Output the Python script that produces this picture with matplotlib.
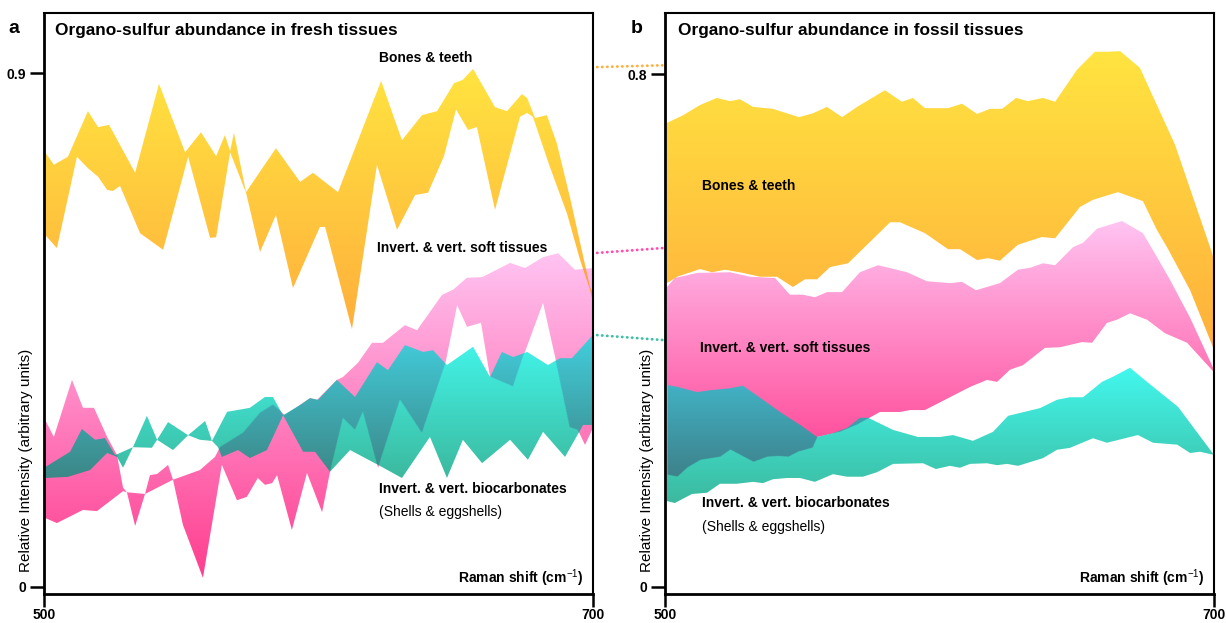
import numpy as np
import matplotlib
matplotlib.use('Agg')
import matplotlib.pyplot as plt
from matplotlib.path import Path
from matplotlib.patches import PathPatch, ConnectionPatch
from matplotlib.colors import to_rgb

plt.rcParams['font.family'] = ['Liberation Sans', 'DejaVu Sans']
plt.rcParams['mathtext.fontset'] = 'custom'
plt.rcParams['mathtext.rm'] = 'Liberation Sans'
plt.rcParams['mathtext.bf'] = 'Liberation Sans:bold'
plt.rcParams['mathtext.default'] = 'rm'

# --- data: panel a (fresh tissues) ---
fresh_bone_up_x = [500.4, 503.6, 508.7, 516.0, 519.7, 523.7, 533.2, 541.9, 551.4, 557.2, 562.7, 565.9, 567.8, 569.2,
                   573.6, 584.5, 593.3, 598.0, 607.1, 622.8, 630.4, 637.7, 643.2, 649.4, 652.6, 656.3, 664.3, 668.7,
                   674.1, 676.0, 678.9, 683.2, 686.8, 691.6, 698.9, 700.0]
fresh_bone_up_y = [0.762, 0.740, 0.754, 0.834, 0.806, 0.810, 0.726, 0.882, 0.762, 0.797, 0.755, 0.792, 0.764, 0.796,
                   0.692, 0.769, 0.710, 0.726, 0.692, 0.887, 0.783, 0.827, 0.834, 0.883, 0.889, 0.908, 0.841, 0.834,
                   0.864, 0.857, 0.822, 0.827, 0.778, 0.683, 0.526, 0.515]
fresh_bone_lo_x = [500.4, 504.7, 512.0, 516.0, 519.7, 523.0, 525.1, 527.7, 535.0, 543.4, 552.5, 560.5, 562.7, 567.8,
                   573.6, 578.7, 584.5, 590.7, 600.5, 602.4, 612.2, 621.3, 628.6, 635.2, 639.9, 645.7, 650.1, 654.5,
                   657.7, 664.3, 673.4, 676.0, 678.1, 684.3, 690.5, 695.3, 698.9, 700.0]
fresh_bone_lo_y = [0.617, 0.594, 0.754, 0.734, 0.719, 0.696, 0.694, 0.703, 0.620, 0.591, 0.754, 0.612, 0.613, 0.762,
                   0.691, 0.587, 0.652, 0.524, 0.631, 0.631, 0.452, 0.740, 0.626, 0.687, 0.691, 0.755, 0.837, 0.801,
                   0.806, 0.661, 0.824, 0.831, 0.824, 0.736, 0.655, 0.573, 0.521, 0.500]

fresh_soft_up_x = [500.4, 503.6, 510.2, 514.2, 518.2, 523.0, 526.6, 528.8, 530.2, 536.8, 538.6, 541.2, 545.2, 547.0,
                   556.8, 562.3, 564.1, 572.5, 578.7, 583.4, 587.8, 596.9, 599.5, 606.7, 608.9, 614.4, 619.5, 623.5,
                   631.5, 635.9, 645.0, 649.0, 654.1, 659.6, 669.8, 675.2, 681.8, 687.3, 693.4, 700.0]
fresh_soft_up_y = [0.293, 0.263, 0.363, 0.314, 0.314, 0.263, 0.231, 0.174, 0.166, 0.163, 0.196, 0.198, 0.214, 0.188,
                   0.205, 0.228, 0.245, 0.270, 0.305, 0.319, 0.301, 0.331, 0.328, 0.363, 0.368, 0.393, 0.428, 0.428,
                   0.459, 0.450, 0.512, 0.521, 0.542, 0.543, 0.568, 0.559, 0.578, 0.585, 0.556, 0.559]
fresh_soft_lo_x = [500.4, 504.7, 514.2, 519.3, 528.8, 530.2, 533.2, 536.8, 547.0, 550.6, 557.9, 564.8, 570.3, 573.9,
                   577.9, 580.5, 583.1, 584.9, 590.3, 595.8, 601.3, 604.2, 608.9, 613.3, 616.2, 621.7, 629.7, 637.7,
                   646.1, 650.5, 654.1, 659.2, 662.5, 670.9, 675.2, 681.8, 686.2, 691.6, 694.5, 697.1, 700.0]
fresh_soft_lo_y = [0.121, 0.112, 0.135, 0.133, 0.168, 0.166, 0.107, 0.163, 0.188, 0.109, 0.016, 0.214, 0.152, 0.158,
                   0.191, 0.179, 0.182, 0.196, 0.100, 0.200, 0.131, 0.202, 0.296, 0.275, 0.307, 0.209, 0.328, 0.270,
                   0.389, 0.494, 0.456, 0.463, 0.368, 0.351, 0.412, 0.498, 0.403, 0.280, 0.275, 0.249, 0.279]

fresh_carb_up_x = [500.4, 509.5, 513.8, 518.6, 522.2, 525.9, 532.4, 537.5, 541.2, 545.2, 552.5, 558.7, 561.2, 566.7,
                   575.0, 580.5, 583.4, 587.1, 593.3, 596.9, 599.8, 606.7, 613.3, 621.3, 625.3, 631.5, 638.1, 641.7,
                   646.8, 656.3, 662.5, 666.8, 670.9, 676.0, 683.6, 688.0, 692.3, 700.0]
fresh_carb_up_y = [0.210, 0.237, 0.277, 0.258, 0.261, 0.231, 0.245, 0.300, 0.258, 0.289, 0.266, 0.291, 0.256, 0.307,
                   0.314, 0.333, 0.333, 0.301, 0.319, 0.331, 0.328, 0.363, 0.333, 0.394, 0.380, 0.424, 0.412, 0.415,
                   0.389, 0.421, 0.368, 0.412, 0.403, 0.412, 0.389, 0.401, 0.401, 0.442]
fresh_carb_lo_x = [500.4, 508.7, 516.8, 523.0, 526.6, 528.8, 532.4, 539.3, 541.2, 547.0, 552.5, 556.8, 561.2, 563.4,
                   564.8, 570.7, 575.0, 581.2, 587.1, 594.4, 598.7, 604.2, 611.5, 621.7, 630.4, 640.6, 646.8, 652.6,
                   659.6, 669.8, 676.3, 681.8, 689.8, 696.4, 700.0]
fresh_carb_lo_y = [0.191, 0.193, 0.205, 0.235, 0.228, 0.209, 0.245, 0.244, 0.258, 0.240, 0.266, 0.258, 0.256, 0.245,
                   0.228, 0.240, 0.226, 0.240, 0.301, 0.237, 0.237, 0.202, 0.240, 0.214, 0.191, 0.263, 0.191, 0.258,
                   0.217, 0.258, 0.223, 0.272, 0.228, 0.284, 0.284]

# --- data: panel b (fossil tissues) ---
fossil_bone_up_x = [500.7, 506.6, 512.8, 518.9, 523.7, 527.3, 532.1, 539.3, 548.8, 553.9, 559.0, 564.5, 570.0, 580.1,
                    586.3, 590.3, 594.7, 603.1, 608.2, 613.7, 618.4, 622.8, 627.9, 632.2, 637.7, 642.1, 650.1, 656.6,
                    661.4, 665.8, 673.0, 685.8, 699.3, 700.0]
fossil_bone_up_y = [0.724, 0.736, 0.752, 0.763, 0.758, 0.761, 0.749, 0.746, 0.733, 0.739, 0.749, 0.733, 0.749, 0.775,
                    0.757, 0.763, 0.747, 0.747, 0.754, 0.738, 0.746, 0.746, 0.763, 0.758, 0.763, 0.757, 0.807, 0.835,
                    0.835, 0.836, 0.810, 0.690, 0.521, 0.510]
fossil_bone_lo_x = [500.7, 504.4, 512.8, 517.1, 521.9, 528.4, 534.6, 540.8, 546.6, 551.0, 555.4, 560.1, 566.7, 582.0,
                    585.6, 594.7, 603.1, 607.5, 613.7, 617.7, 622.0, 628.6, 637.3, 642.1, 651.2, 655.9, 665.0, 674.1,
                    679.2, 682.9, 691.3, 700.0]
fossil_bone_lo_y = [0.474, 0.484, 0.496, 0.491, 0.495, 0.490, 0.484, 0.484, 0.468, 0.480, 0.480, 0.499, 0.505, 0.569,
                    0.569, 0.552, 0.527, 0.527, 0.510, 0.513, 0.509, 0.534, 0.546, 0.544, 0.593, 0.604, 0.616, 0.602,
                    0.557, 0.530, 0.463, 0.370]

fossil_soft_up_x = [500.7, 503.6, 511.7, 523.7, 531.0, 540.1, 545.5, 550.3, 554.6, 559.0, 564.5, 571.0, 577.6, 588.2,
                    595.4, 603.8, 608.2, 613.3, 622.0, 628.6, 633.0, 637.7, 642.1, 648.6, 652.3, 657.4, 666.5, 674.1,
                    679.2, 684.0, 691.3, 700.0]
fossil_soft_up_y = [0.468, 0.482, 0.490, 0.491, 0.484, 0.482, 0.456, 0.456, 0.452, 0.460, 0.460, 0.491, 0.502, 0.491,
                    0.477, 0.474, 0.476, 0.463, 0.474, 0.495, 0.498, 0.505, 0.502, 0.530, 0.537, 0.559, 0.571, 0.552,
                    0.515, 0.479, 0.420, 0.339]
fossil_soft_lo_x = [500.7, 504.4, 508.0, 512.8, 520.0, 523.7, 532.1, 537.2, 541.2, 544.8, 548.5, 553.6, 555.4, 563.8,
                    569.9, 578.3, 585.6, 589.3, 594.7, 603.8, 611.1, 617.3, 621.0, 625.7, 630.4, 638.4, 643.9, 651.9,
                    655.6, 661.0, 664.7, 669.4, 675.6, 682.1, 690.2, 700.0]
fossil_soft_lo_y = [0.175, 0.172, 0.186, 0.198, 0.203, 0.214, 0.195, 0.203, 0.204, 0.203, 0.211, 0.217, 0.234, 0.242,
                    0.253, 0.273, 0.273, 0.276, 0.276, 0.296, 0.312, 0.323, 0.320, 0.339, 0.346, 0.373, 0.374, 0.382,
                    0.381, 0.412, 0.417, 0.427, 0.417, 0.396, 0.381, 0.335]

fossil_carb_up_x = [500.7, 504.7, 511.7, 516.4, 523.7, 528.4, 535.7, 542.6, 549.2, 555.4, 561.2, 566.3, 571.0, 574.0,
                    583.1, 592.2, 600.2, 604.9, 612.2, 619.5, 625.0, 636.6, 642.8, 647.5, 652.3, 659.2, 663.2, 669.4,
                    675.6, 686.9, 700.0]
fossil_carb_up_y = [0.315, 0.312, 0.304, 0.307, 0.310, 0.314, 0.292, 0.271, 0.253, 0.234, 0.240, 0.248, 0.264, 0.264,
                    0.245, 0.234, 0.234, 0.237, 0.228, 0.242, 0.267, 0.279, 0.292, 0.296, 0.296, 0.320, 0.328, 0.342,
                    0.320, 0.281, 0.206]
fossil_carb_lo_x = [500.7, 503.6, 509.8, 515.3, 520.0, 526.2, 532.1, 535.7, 539.3, 544.4, 549.2, 554.6, 561.2, 566.3,
                    572.1, 577.2, 583.1, 594.0, 598.7, 603.8, 607.5, 611.1, 617.3, 621.0, 624.6, 628.6, 637.7, 642.8,
                    647.5, 655.9, 661.0, 672.3, 677.8, 686.6, 691.3, 694.9, 700.0]
fossil_carb_lo_y = [0.134, 0.131, 0.145, 0.147, 0.161, 0.161, 0.164, 0.162, 0.168, 0.170, 0.170, 0.164, 0.176, 0.172,
                    0.172, 0.179, 0.192, 0.193, 0.184, 0.189, 0.186, 0.192, 0.193, 0.190, 0.192, 0.189, 0.201, 0.214,
                    0.217, 0.232, 0.225, 0.237, 0.225, 0.222, 0.209, 0.211, 0.206]

# levels joined by the dotted guides between the panels
link_fresh = [0.911, 0.585, 0.442]
link_fossil = [0.814, 0.529, 0.385]

YELLOW = ('#FFE440', '#FFAF3C')
PINK = ('#FFC4F2', '#FF3D8E')
TEAL = ('#42F8EE', '#3CB99E')
LINK_COLORS = ['#FFB03C', '#FF4DB0', '#3DBFA4']


def band_path(xu, yu, xl, yl):
    verts = np.vstack([np.column_stack([xu, yu]), np.column_stack([xl, yl])[::-1]])
    verts = np.vstack([verts, verts[:1]])
    return Path(verts, closed=True)


def draw_bands(ax, bands, strength=0.45, nx=900, ny=700):
    """gradient bands; overlaps are darkened like a soft multiply"""
    drawn = []
    for xu, yu, xl, yl, colors in bands:
        path = band_path(xu, yu, xl, yl)
        x0, x1 = min(min(xu), min(xl)), max(max(xu), max(xl))
        y0, y1 = min(min(yu), min(yl)), max(max(yu), max(yl))
        c_top, c_bot = np.array(to_rgb(colors[0])), np.array(to_rgb(colors[1]))
        gx = np.linspace(x0, x1, nx)
        gy = np.linspace(y0, y1, ny)
        X, Y = np.meshgrid(gx, gy)
        t = (Y - y0) / (y1 - y0)
        img = c_bot + t[..., None] * (c_top - c_bot)
        if drawn:
            pts = np.column_stack([X.ravel(), Y.ravel()])
            for ppath, py0, py1, pc_top, pc_bot in drawn:
                inside = ppath.contains_points(pts).reshape(ny, nx)
                tt = np.clip((Y - py0) / (py1 - py0), 0, 1)
                pcol = pc_bot + tt[..., None] * (pc_top - pc_bot)
                factor = 1 - strength * (1 - pcol)
                img = np.where(inside[..., None], img * factor, img)
        im = ax.imshow(img, extent=(x0, x1, y0, y1), origin='lower', aspect='auto',
                       interpolation='bilinear', zorder=2)
        patch = PathPatch(path, facecolor='none', edgecolor='none', transform=ax.transData)
        ax.add_patch(patch)
        im.set_clip_path(patch)
        drawn.append((path, y0, y1, c_top, c_bot))


def style_axes(ax, ytop, ylim):
    ax.set_xlim(500, 700)
    ax.set_ylim(*ylim)
    for side in ['left', 'bottom']:
        ax.spines[side].set_linewidth(2.0)
    for side in ['top', 'right']:
        ax.spines[side].set_linewidth(1.5)
    ax.set_xticks([500, 700], labels=['500', '700'], fontweight='bold', fontsize=10)
    ax.set_yticks([0, ytop], labels=['0', f'{ytop:g}'], fontweight='bold', fontsize=10)
    ax.tick_params(direction='out', length=10, width=1.8, pad=3)
    ax.tick_params(axis='x', length=9, pad=1)
    ax.text(0.982, 0.019, r'Raman shift (cm$^{-1}$)', transform=ax.transAxes, ha='right',
            va='baseline', fontsize=10, fontweight='bold', zorder=5)


fig = plt.figure(figsize=(12.26, 6.23), dpi=100)
ax_a = fig.add_axes([0.03589, 0.04655, 0.44780, 0.93258])
ax_b = fig.add_axes([0.54241, 0.04655, 0.44780, 0.93258])

draw_bands(ax_a, [
    (fresh_soft_up_x, fresh_soft_up_y, fresh_soft_lo_x, fresh_soft_lo_y, PINK),
    (fresh_carb_up_x, fresh_carb_up_y, fresh_carb_lo_x, fresh_carb_lo_y, TEAL),
    (fresh_bone_up_x, fresh_bone_up_y, fresh_bone_lo_x, fresh_bone_lo_y, YELLOW),
])
draw_bands(ax_b, [
    (fossil_bone_up_x, fossil_bone_up_y, fossil_bone_lo_x, fossil_bone_lo_y, YELLOW),
    (fossil_soft_up_x, fossil_soft_up_y, fossil_soft_lo_x, fossil_soft_lo_y, PINK),
    (fossil_carb_up_x, fossil_carb_up_y, fossil_carb_lo_x, fossil_carb_lo_y, TEAL),
])

style_axes(ax_a, 0.9, (-0.0123, 1.006))
style_axes(ax_b, 0.8, (-0.011, 0.8955))

# panel titles and labels
ax_a.text(0.020, 0.9707, 'Organo-sulfur abundance in fresh tissues', transform=ax_a.transAxes,
          fontsize=12.4, fontweight='bold', va='center')
ax_b.text(0.0237, 0.9707, 'Organo-sulfur abundance in fossil tissues', transform=ax_b.transAxes,
          fontsize=12.4, fontweight='bold', va='center')

lab = dict(fontsize=10, fontweight='bold', va='center', zorder=5)
ax_a.text(0.610, 0.9225, 'Bones & teeth', transform=ax_a.transAxes, **lab)
ax_a.text(0.6066, 0.5955, 'Invert. & vert. soft tissues', transform=ax_a.transAxes, **lab)
ax_a.text(0.610, 0.1807, 'Invert. & vert. biocarbonates', transform=ax_a.transAxes, **lab)
ax_a.text(0.610, 0.141, '(Shells & eggshells)', transform=ax_a.transAxes, fontsize=10, va='center')

ax_b.text(0.0674, 0.702, 'Bones & teeth', transform=ax_b.transAxes, **lab)
ax_b.text(0.0638, 0.4234, 'Invert. & vert. soft tissues', transform=ax_b.transAxes, **lab)
ax_b.text(0.0674, 0.1566, 'Invert. & vert. biocarbonates', transform=ax_b.transAxes, **lab)
ax_b.text(0.0674, 0.1153, '(Shells & eggshells)', transform=ax_b.transAxes, fontsize=10, va='center')

for xf in [0.0212, 0.5277]:
    fig.text(xf, 0.2616, 'Relative Intensity (arbitrary units)', rotation=90, fontsize=11,
             ha='center', va='center')

fig.text(0.0065, 0.955, 'a', fontsize=14, fontweight='bold', va='center')
fig.text(0.5147, 0.955, 'b', fontsize=14, fontweight='bold', va='center')

# dotted guides linking the two panels
for ya, yb, c in zip(link_fresh, link_fossil, LINK_COLORS):
    con = ConnectionPatch(xyA=(700, ya), coordsA=ax_a.transData, xyB=(500, yb), coordsB=ax_b.transData,
                          color=c, linewidth=2.0, linestyle=(0, (0.1, 1.7)), capstyle='round',
                          shrinkA=3, shrinkB=2)
    fig.add_artist(con)

fig.savefig('out.png', dpi=100)
